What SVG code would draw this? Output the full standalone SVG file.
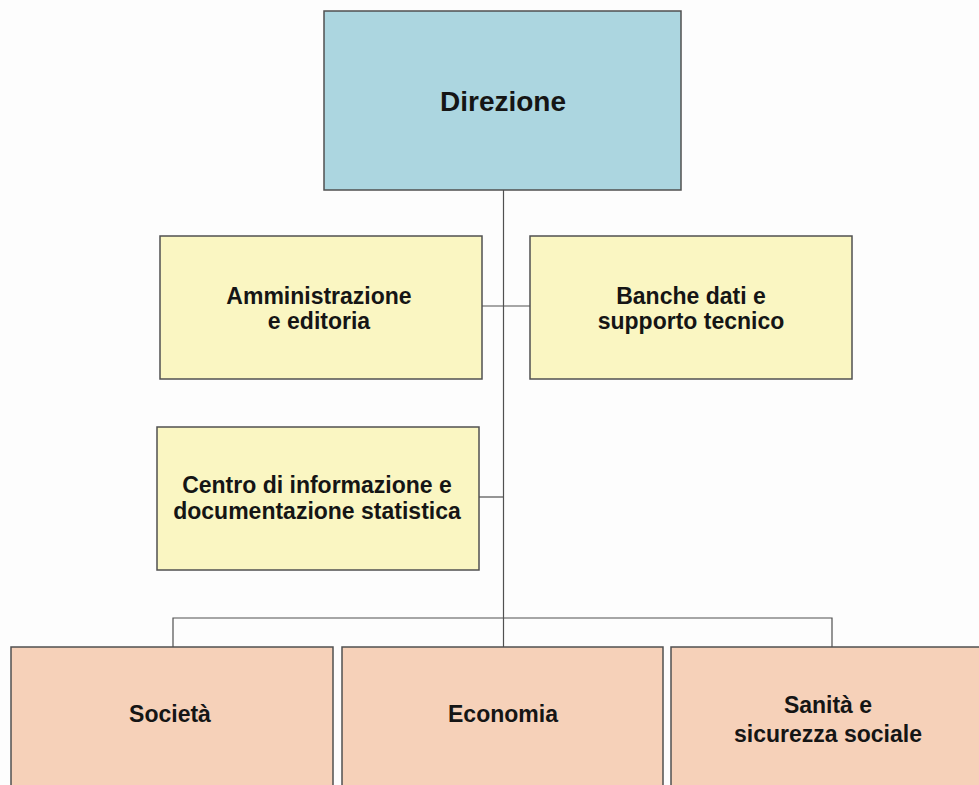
<svg xmlns="http://www.w3.org/2000/svg" width="979" height="785" viewBox="0 0 979 785">
<style>
.box{stroke:#505050;stroke-width:1.5}
.blue{fill:#acd6e0}
.yel{fill:#faf6c2}
.pink{fill:#f6d1b9}
.t{font-family:"Liberation Sans",Arial,sans-serif;font-weight:bold;fill:#151515;text-anchor:middle}
.s23{font-size:23px}
.conn{stroke:#505050;stroke-width:1.2;fill:none}
</style>
<rect width="979" height="785" fill="#fdfdfd"/>
<g id="connectors">
<line class="conn" x1="503.5" y1="190" x2="503.5" y2="647"/>
<line class="conn" x1="482" y1="306" x2="530" y2="306"/>
<line class="conn" x1="479" y1="497" x2="503.5" y2="497"/>
<polyline class="conn" points="173,647 173,618 832,618 832,647"/>
</g>
<g id="direzione">
<rect class="box blue" x="324" y="11" width="357" height="179"/>
<text class="t" x="503" y="111" font-size="28">Direzione</text>
</g>
<g id="amministrazione">
<rect class="box yel" x="160" y="236" width="322" height="143"/>
<text class="t s23" x="319" y="304">Amministrazione</text>
<text class="t s23" x="319" y="329">e editoria</text>
</g>
<g id="banche">
<rect class="box yel" x="530" y="236" width="322" height="143"/>
<text class="t s23" x="691" y="304">Banche dati e</text>
<text class="t s23" x="691" y="329">supporto tecnico</text>
</g>
<g id="centro">
<rect class="box yel" x="157" y="427" width="322" height="143"/>
<text class="t s23" x="317" y="493">Centro di informazione e</text>
<text class="t s23" x="317" y="519">documentazione statistica</text>
</g>
<g id="societa">
<rect class="box pink" x="11" y="647" width="322" height="145"/>
<text class="t s23" x="170" y="722">Società</text>
</g>
<g id="economia">
<rect class="box pink" x="342" y="647" width="321" height="145"/>
<text class="t s23" x="503" y="722">Economia</text>
</g>
<g id="sanita">
<rect class="box pink" x="671" y="647" width="316" height="145"/>
<text class="t s23" x="828" y="713">Sanità e</text>
<text class="t s23" x="828" y="742">sicurezza sociale</text>
</g>
</svg>
